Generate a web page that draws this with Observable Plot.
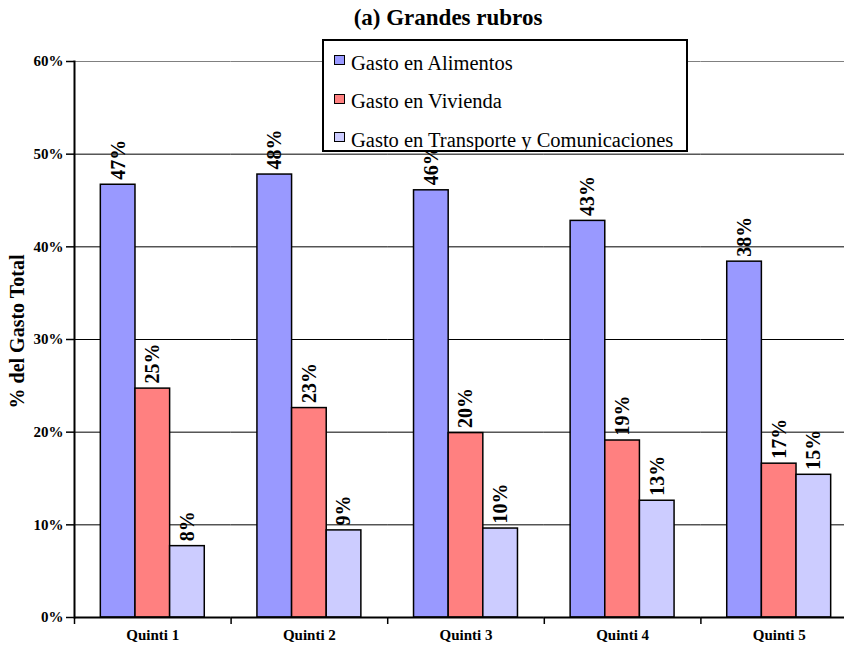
<!DOCTYPE html>
<html>
<head>
<meta charset="utf-8">
<script src="https://cdn.jsdelivr.net/npm/d3@7"></script>
<script src="https://cdn.jsdelivr.net/npm/@observablehq/plot@0.6"></script>
<style>
  html, body { margin: 0; padding: 0; background: #fff; overflow: hidden; }
  #chart { position: relative; width: 844px; height: 647px; overflow: hidden; font-family: "Liberation Serif", "Times New Roman", serif; }
  #title { height: 40px; line-height: 36px; padding-left: 52px; text-align: center; font-weight: bold; font-size: 23px; box-sizing: border-box; }
  #legend { position: absolute; left: 322px; top: 39px; width: 366px; height: 113px; box-sizing: border-box; border: 2px solid #000; background: #fff; padding-top: 3px; }
  #legend .row { display: flex; align-items: center; height: 38.5px; font-size: 20.5px; }
  #legend .sw { width: 9px; height: 8px; border: 1.5px solid #000; margin-left: 10px; margin-right: 6px; margin-top: -6px; }
</style>
</head>
<body>
<div id="chart">
  <div id="title">(a) Grandes rubros</div>
  <div id="plot"></div>
  <div id="legend"></div>
</div>
<script>
// Quintiles de ingreso y rubros de gasto (% del gasto total)
const quintiles = ["Quinti 1", "Quinti 2", "Quinti 3", "Quinti 4", "Quinti 5"];
const series = ["Gasto en Alimentos", "Gasto en Vivienda", "Gasto en Transporte y Comunicaciones"];
const colors = ["#9999ff", "#ff8080", "#ccccff"];
const alimentos = [46.7, 47.8, 46.1, 42.8, 38.4];
const vivienda = [24.7, 22.6, 19.9, 19.1, 16.6];
const transporte = [7.7, 9.4, 9.6, 12.6, 15.4];
const yTicks = [0, 10, 20, 30, 40, 50, 60];

const values = [alimentos, vivienda, transporte];
const rows = series.flatMap((serie, i) =>
  quintiles.map((quintil, j) => ({quintil, serie, valor: values[i][j]}))
);

// Layout: the plot area runs past the right edge of the 844px frame
const W = 857, H = 607, ML = 74, MR = 0, MT = 21, MB = 30;
const STEP = (W - ML - MR) / quintiles.length;
const SERIF = '"Liberation Serif", "Times New Roman", serif';

const plot = Plot.plot({
  width: W,
  height: H,
  marginLeft: ML,
  marginRight: MR,
  marginTop: MT,
  marginBottom: MB,
  style: {fontFamily: SERIF, background: "transparent", color: "#000", maxWidth: "none"},
  fx: {domain: quintiles, padding: 0, round: false},
  x: {domain: series, paddingInner: 0, paddingOuter: 0.76, round: false, axis: null},
  y: {domain: [0, 60]},
  color: {domain: series, range: colors},
  marks: [
    Plot.ruleY(yTicks.filter(t => t > 0 && t < 60), {stroke: "#000", strokeWidth: 1}),
    Plot.ruleY([60], {stroke: "#808080", strokeWidth: 1.2}),
    Plot.barY(rows, {fx: "quintil", x: "serie", y: "valor", fill: "serie", stroke: "#000", strokeWidth: 1.5}),
    Plot.text(rows, {
      fx: "quintil", x: "serie", y: "valor",
      text: d => `${Math.round(d.valor)}%`,
      rotate: -90, textAnchor: "start", dy: -5,
      fontWeight: "bold", fontSize: 20, fill: "#000"
    }),
    Plot.ruleY([0], {stroke: "#000", strokeWidth: 2}),
    Plot.axisY({
      ticks: yTicks, tickFormat: d => `${d}%`,
      tickSize: 8, tickPadding: 3, strokeWidth: 1.5,
      fontSize: 15, fontWeight: "bold", label: null
    }),
    Plot.text(["% del Gasto Total"], {
      frameAnchor: "left", facetAnchor: "left", textAnchor: "middle",
      dx: -57, dy: -8, rotate: -90,
      fontSize: 20, fontWeight: "bold", fill: "#000"
    }),
    Plot.frame({anchor: "left", facetAnchor: "left", stroke: "#000", strokeWidth: 2}),
    Plot.axisFx({anchor: "bottom", tickSize: 0, tickPadding: 12, fontSize: 15, fontWeight: "bold", label: null}),
    Plot.axisFx({anchor: "bottom", text: null, tickSize: 7, dx: -STEP / 2, strokeWidth: 1.5, label: null})
  ]
});
document.getElementById("plot").appendChild(plot);

// Legend
const legend = d3.select("#legend");
series.forEach((s, i) => {
  const row = legend.append("div").attr("class", "row");
  row.append("div").attr("class", "sw").style("background", colors[i]);
  row.append("span").text(s);
});
</script>
</body>
</html>
